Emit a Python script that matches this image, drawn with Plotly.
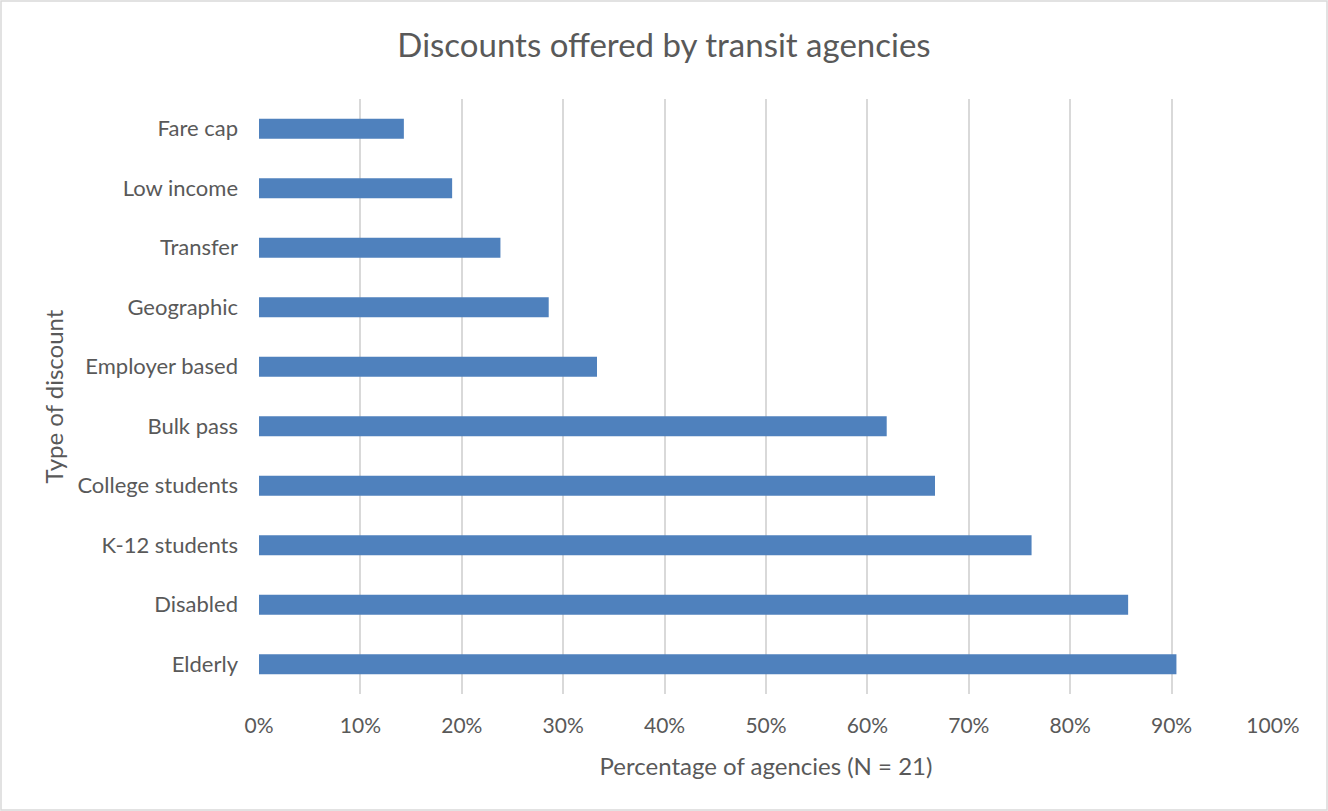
import plotly.graph_objects as go

categories = ["Elderly", "Disabled", "K-12 students", "College students", "Bulk pass",
              "Employer based", "Geographic", "Transfer", "Low income", "Fare cap"]
values = [19/21, 18/21, 16/21, 14/21, 13/21, 7/21, 6/21, 5/21, 4/21, 3/21]
x_ticks = [i / 10 for i in range(11)]
x_tick_labels = [f"{i*10}%" for i in range(11)]

FONT = "Lato, Open Sans, sans-serif"
GRAY = "#595959"

fig = go.Figure(go.Bar(
    y=categories, x=values, orientation="h",
    marker=dict(color="#4F81BD", line=dict(width=0)),
    width=0.34,
))

fig.update_layout(
    width=1328, height=811,
    paper_bgcolor="white", plot_bgcolor="white",
    margin=dict(l=259, r=55, t=99, b=117),
    title=dict(text="Discounts offered by transit agencies", x=0.5, xanchor="center",
               y=1 - 45/811, yanchor="middle",
               font=dict(family=FONT, size=33, color=GRAY)),
    font=dict(family=FONT, color=GRAY),
    showlegend=False,
    bargap=0.66,
)
fig.update_xaxes(
    range=[0, 1], tickvals=x_ticks, ticktext=x_tick_labels,
    showgrid=True, gridcolor="#D9D9D9", gridwidth=1.5,
    zeroline=False, showline=False, ticks="",
    tickfont=dict(size=21, color=GRAY), ticklabelstandoff=17,
    title=dict(text="Percentage of agencies (N = 21)", font=dict(size=24, color=GRAY), standoff=22),
)
fig.update_yaxes(
    categoryorder="array", categoryarray=categories,
    showgrid=False, zeroline=False, showline=False, ticks="",
    tickfont=dict(size=22, color=GRAY), ticklabelstandoff=20,
    title=dict(text="Type of discount", font=dict(size=24, color=GRAY), standoff=6),
)
fig.add_shape(type="rect", xref="paper", yref="paper",
              x0=-258/1014, x1=1 + 54/1014, y0=-116/595, y1=1 + 98/595,
              line=dict(color="#D9D9D9", width=1.5), layer="below")
fig.write_html("out.html", config={"displayModeBar": False},
               post_script="document.body.style.margin='0';")
